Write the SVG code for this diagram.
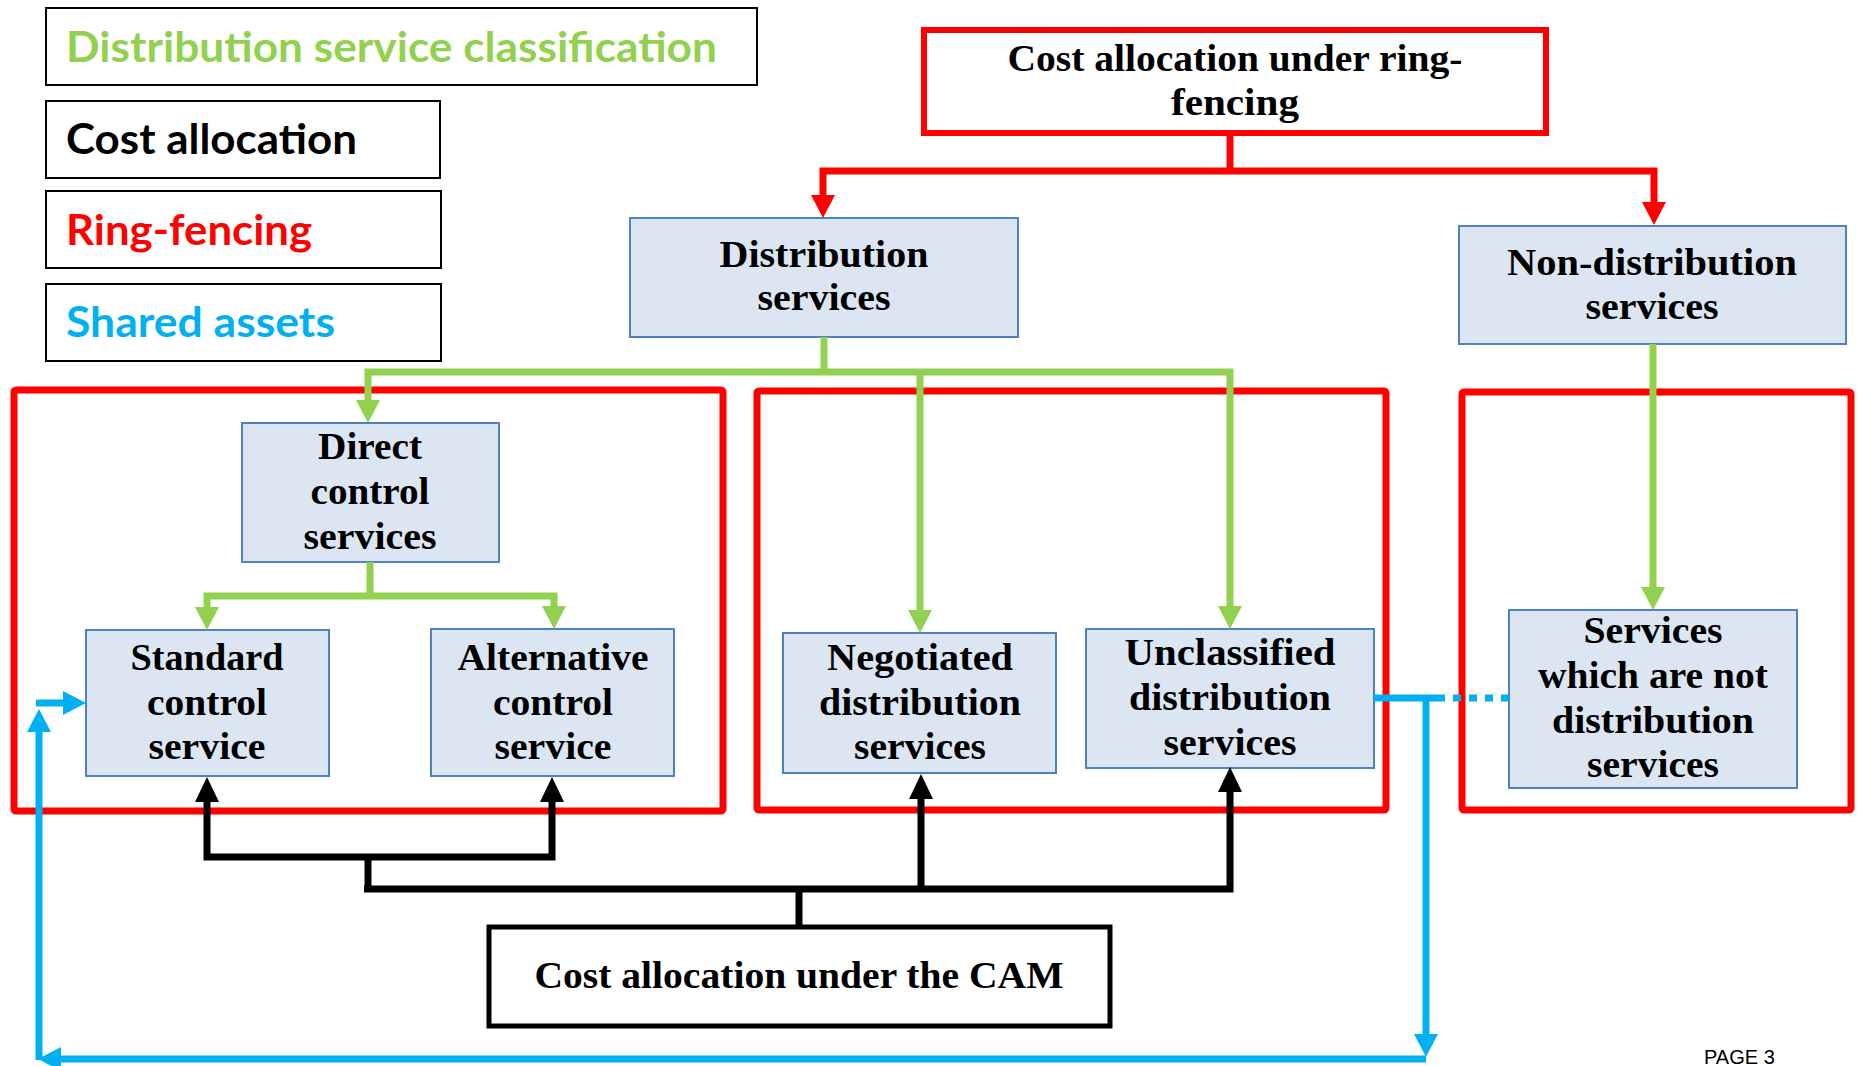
<svg xmlns="http://www.w3.org/2000/svg" width="1858" height="1066" viewBox="0 0 1858 1066">
<style>
.legend{fill:#fff;stroke:#000;stroke-width:2}
.lt{font-family:Lato,"Liberation Sans",sans-serif;font-weight:bold;font-size:42px}
.node{fill:#DCE6F2;stroke:#4F81BD;stroke-width:2}
.nt{font-family:"Liberation Serif",serif;font-weight:bold;font-size:37px;fill:#000;text-anchor:middle}
.ring{fill:none;stroke:#FF0000;stroke-width:7}
.red{fill:none;stroke:#FF0000;stroke-width:7}
.grn{fill:none;stroke:#92D050;stroke-width:7}
.blk{fill:none;stroke:#000;stroke-width:7}
.blu{fill:none;stroke:#00B0F0;stroke-width:7}
</style>
<defs>
<marker id="aR" markerUnits="userSpaceOnUse" markerWidth="23" markerHeight="24" refX="1" refY="12" orient="auto"><path d="M0,0 L23,12 L0,24 z" fill="#FF0000"/></marker>
<marker id="aG" markerUnits="userSpaceOnUse" markerWidth="23" markerHeight="24" refX="1" refY="12" orient="auto"><path d="M0,0 L23,12 L0,24 z" fill="#92D050"/></marker>
<marker id="aK" markerUnits="userSpaceOnUse" markerWidth="25" markerHeight="24" refX="1" refY="12" orient="auto"><path d="M0,0 L25,12 L0,24 z" fill="#000"/></marker>
<marker id="aB" markerUnits="userSpaceOnUse" markerWidth="23" markerHeight="24" refX="1" refY="12" orient="auto"><path d="M0,0 L23,12 L0,24 z" fill="#00B0F0"/></marker>
</defs>
<rect width="1858" height="1066" fill="#fff"/>

<g id="legend">
<rect class="legend" x="46" y="8" width="711" height="77"/>
<text class="lt" x="66" y="62" fill="#92D050" textLength="651" lengthAdjust="spacingAndGlyphs">Distribution service classification</text>
<rect class="legend" x="46" y="101" width="394" height="77"/>
<text class="lt" x="66" y="154" fill="#000" textLength="291" lengthAdjust="spacingAndGlyphs">Cost allocation</text>
<rect class="legend" x="46" y="191" width="395" height="77"/>
<text class="lt" x="66" y="245" fill="#FF0000" textLength="246" lengthAdjust="spacingAndGlyphs">Ring-fencing</text>
<rect class="legend" x="46" y="284" width="395" height="77"/>
<text class="lt" x="66" y="337" fill="#00B0F0" textLength="269" lengthAdjust="spacingAndGlyphs">Shared assets</text>
</g>

<g id="ringfence-groups">
<rect class="ring" x="14" y="390" width="709" height="421" rx="2"/>
<rect class="ring" x="757" y="391" width="629" height="419" rx="2"/>
<rect class="ring" x="1462" y="392" width="389" height="418" rx="2"/>
</g>

<g id="ring-top">
<rect x="924" y="30" width="622" height="103" fill="#fff" stroke="#FF0000" stroke-width="6"/>
<text class="nt" x="1235" y="71" textLength="455" lengthAdjust="spacingAndGlyphs">Cost allocation under ring-</text>
<text class="nt" x="1235" y="115" textLength="128" lengthAdjust="spacingAndGlyphs">fencing</text>
</g>

<g id="distribution-services">
<rect class="node" x="630" y="218" width="388" height="119"/>
<text class="nt" x="824" y="267" textLength="209" lengthAdjust="spacingAndGlyphs">Distribution</text>
<text class="nt" x="824" y="310" textLength="133" lengthAdjust="spacingAndGlyphs">services</text>
</g>

<g id="non-distribution-services">
<rect class="node" x="1459" y="226" width="387" height="118"/>
<text class="nt" x="1652" y="275" textLength="290" lengthAdjust="spacingAndGlyphs">Non-distribution</text>
<text class="nt" x="1652" y="319" textLength="133" lengthAdjust="spacingAndGlyphs">services</text>
</g>

<g id="direct-control">
<rect class="node" x="242" y="423" width="257" height="139"/>
<text class="nt" x="370" y="459" textLength="104" lengthAdjust="spacingAndGlyphs">Direct</text>
<text class="nt" x="370" y="504" textLength="119" lengthAdjust="spacingAndGlyphs">control</text>
<text class="nt" x="370" y="549" textLength="133" lengthAdjust="spacingAndGlyphs">services</text>
</g>

<g id="standard-control">
<rect class="node" x="86" y="630" width="243" height="146"/>
<text class="nt" x="207" y="670" textLength="153" lengthAdjust="spacingAndGlyphs">Standard</text>
<text class="nt" x="207" y="715" textLength="120" lengthAdjust="spacingAndGlyphs">control</text>
<text class="nt" x="207" y="759" textLength="117" lengthAdjust="spacingAndGlyphs">service</text>
</g>

<g id="alternative-control">
<rect class="node" x="431" y="629" width="243" height="147"/>
<text class="nt" x="553" y="670" textLength="191" lengthAdjust="spacingAndGlyphs">Alternative</text>
<text class="nt" x="553" y="715" textLength="120" lengthAdjust="spacingAndGlyphs">control</text>
<text class="nt" x="553" y="759" textLength="117" lengthAdjust="spacingAndGlyphs">service</text>
</g>

<g id="negotiated">
<rect class="node" x="783" y="633" width="273" height="140"/>
<text class="nt" x="920" y="670" textLength="186" lengthAdjust="spacingAndGlyphs">Negotiated</text>
<text class="nt" x="920" y="715" textLength="202" lengthAdjust="spacingAndGlyphs">distribution</text>
<text class="nt" x="920" y="759" textLength="132" lengthAdjust="spacingAndGlyphs">services</text>
</g>

<g id="unclassified">
<rect class="node" x="1086" y="629" width="288" height="139"/>
<text class="nt" x="1230" y="665" textLength="211" lengthAdjust="spacingAndGlyphs">Unclassified</text>
<text class="nt" x="1230" y="710" textLength="202" lengthAdjust="spacingAndGlyphs">distribution</text>
<text class="nt" x="1230" y="755" textLength="133" lengthAdjust="spacingAndGlyphs">services</text>
</g>

<g id="not-distribution">
<rect class="node" x="1509" y="610" width="288" height="178"/>
<text class="nt" x="1653" y="643" textLength="139" lengthAdjust="spacingAndGlyphs">Services</text>
<text class="nt" x="1653" y="688" textLength="230" lengthAdjust="spacingAndGlyphs">which are not</text>
<text class="nt" x="1653" y="733" textLength="202" lengthAdjust="spacingAndGlyphs">distribution</text>
<text class="nt" x="1653" y="777" textLength="132" lengthAdjust="spacingAndGlyphs">services</text>
</g>

<g id="cam">
<rect x="489" y="927" width="621" height="99" fill="#fff" stroke="#000" stroke-width="5"/>
<text class="nt" x="799" y="988" textLength="529" lengthAdjust="spacingAndGlyphs">Cost allocation under the CAM</text>
</g>

<g id="connectors">
<!-- ring-fencing (red) -->
<path class="red" d="M1230,133 L1230,171"/>
<path class="red" d="M1230,171 L823,171 L823,196" marker-end="url(#aR)"/>
<path class="red" d="M1230,171 L1654,171 L1654,203" marker-end="url(#aR)"/>
<!-- classification (green) -->
<path class="grn" d="M824,337 L824,372"/>
<path class="grn" d="M824,372 L368,372 L368,401" marker-end="url(#aG)"/>
<path class="grn" d="M824,372 L1230,372 L1230,607" marker-end="url(#aG)"/>
<path class="grn" d="M920,372 L920,611" marker-end="url(#aG)"/>
<path class="grn" d="M1653,344 L1653,588" marker-end="url(#aG)"/>
<path class="grn" d="M370,562 L370,596"/>
<path class="grn" d="M370,596 L207,596 L207,608" marker-end="url(#aG)"/>
<path class="grn" d="M370,596 L554,596 L554,607" marker-end="url(#aG)"/>
<!-- cost allocation (black) -->
<path class="blk" d="M799,927 L799,889"/>
<path class="blk" d="M364,889 L1230,889 L1230,791" marker-end="url(#aK)"/>
<path class="blk" d="M921,889 L921,798" marker-end="url(#aK)"/>
<path class="blk" d="M368,889 L368,857"/>
<path class="blk" d="M368,857 L207,857 L207,801" marker-end="url(#aK)"/>
<path class="blk" d="M368,857 L552,857 L552,801" marker-end="url(#aK)"/>
<!-- shared assets (blue) -->
<path class="blu" d="M1374,698 L1437,698"/>
<path class="blu" d="M1437,698 L1509,698" stroke-dasharray="8 8"/>
<path class="blu" d="M1426,698 L1426,1035" marker-end="url(#aB)"/>
<path class="blu" d="M1426,1059 L60,1059" marker-end="url(#aB)"/>
<path class="blu" d="M39,1060 L39,731" marker-end="url(#aB)"/>
<path class="blu" d="M36,703 L64,703" marker-end="url(#aB)"/>
</g>

<text x="1704" y="1064" font-family="'Liberation Sans',Arial,sans-serif" font-size="20" fill="#000">PAGE 3</text>
</svg>
